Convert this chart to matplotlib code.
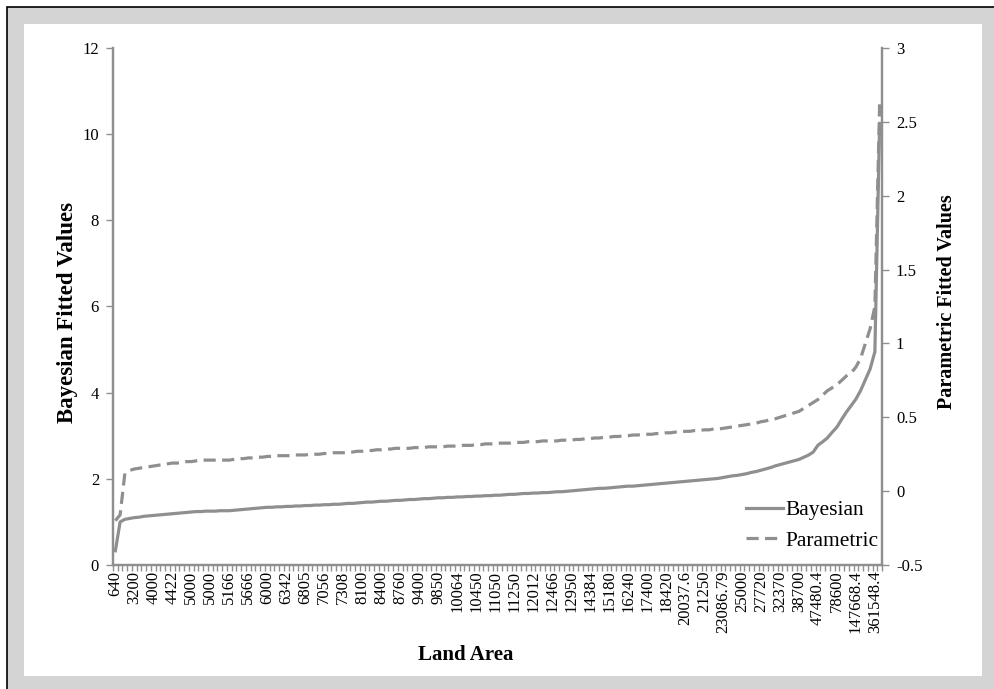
import numpy as np
import matplotlib.pyplot as plt
from matplotlib.patches import Rectangle
from matplotlib.lines import Line2D

# Etiquetas del eje X (una de cada cuatro categorias)
area_labels = ['640', '3200', '4000', '4422', '5000', '5000', '5166', '5666', '6000',
               '6342', '6805', '7056', '7308', '8100', '8400', '8760', '9400', '9850',
               '10064', '10450', '11050', '11250', '12012', '12466', '12950', '14384',
               '15180', '16240', '17400', '18420', '20037.6', '21250', '23086.79',
               '25000', '27720', '32370', '38700', '47480.4', '78600', '147668.4',
               '361548.4']
label_step = 4

# Valores ajustados (eje izquierdo)
bayesian = [0.33, 1.00, 1.06, 1.08, 1.10, 1.11, 1.13, 1.14, 1.15, 1.16,
            1.17, 1.18, 1.19, 1.20, 1.21, 1.22, 1.23, 1.24, 1.24, 1.25,
            1.25, 1.25, 1.26, 1.26, 1.26, 1.27, 1.28, 1.29, 1.30, 1.31,
            1.32, 1.33, 1.34, 1.34, 1.35, 1.35, 1.36, 1.36, 1.37, 1.37,
            1.38, 1.38, 1.39, 1.39, 1.40, 1.40, 1.41, 1.41, 1.42, 1.43,
            1.43, 1.44, 1.45, 1.46, 1.46, 1.47, 1.48, 1.48, 1.49, 1.50,
            1.50, 1.51, 1.52, 1.52, 1.53, 1.54, 1.54, 1.55, 1.56, 1.56,
            1.57, 1.57, 1.58, 1.58, 1.59, 1.59, 1.60, 1.60, 1.61, 1.61,
            1.62, 1.62, 1.63, 1.64, 1.64, 1.65, 1.66, 1.66, 1.67, 1.67,
            1.68, 1.68, 1.69, 1.70, 1.70, 1.71, 1.72, 1.73, 1.74, 1.75,
            1.76, 1.77, 1.78, 1.78, 1.79, 1.80, 1.81, 1.82, 1.83, 1.83,
            1.84, 1.85, 1.86, 1.87, 1.88, 1.89, 1.90, 1.91, 1.92, 1.93,
            1.94, 1.95, 1.96, 1.97, 1.98, 1.99, 2.00, 2.01, 2.03, 2.05,
            2.07, 2.08, 2.10, 2.12, 2.15, 2.17, 2.20, 2.23, 2.26, 2.30,
            2.33, 2.36, 2.39, 2.42, 2.45, 2.50, 2.55, 2.62, 2.78, 2.86,
            2.95, 3.08, 3.20, 3.38, 3.55, 3.70, 3.85, 4.05, 4.30, 4.55,
            4.95, 10.25]

# Valores ajustados (eje derecho)
parametric = [-0.20, -0.16, 0.12, 0.14, 0.15, 0.155, 0.16, 0.165, 0.17, 0.175,
              0.18, 0.185, 0.19, 0.19, 0.195, 0.20, 0.20, 0.205, 0.21, 0.21,
              0.21, 0.21, 0.21, 0.21, 0.21, 0.215, 0.22, 0.22, 0.225, 0.225,
              0.23, 0.23, 0.235, 0.235, 0.24, 0.24, 0.24, 0.24, 0.245, 0.245,
              0.245, 0.25, 0.25, 0.25, 0.255, 0.255, 0.26, 0.26, 0.26, 0.265,
              0.265, 0.27, 0.27, 0.275, 0.275, 0.28, 0.28, 0.285, 0.285, 0.29,
              0.29, 0.29, 0.29, 0.295, 0.295, 0.295, 0.30, 0.30, 0.30, 0.30,
              0.305, 0.305, 0.305, 0.31, 0.31, 0.31, 0.315, 0.315, 0.32, 0.32,
              0.32, 0.325, 0.325, 0.325, 0.33, 0.33, 0.33, 0.335, 0.335, 0.335,
              0.34, 0.34, 0.34, 0.34, 0.345, 0.345, 0.345, 0.35, 0.35, 0.355,
              0.355, 0.36, 0.36, 0.365, 0.365, 0.37, 0.37, 0.375, 0.375, 0.38,
              0.38, 0.385, 0.385, 0.385, 0.39, 0.39, 0.395, 0.395, 0.40, 0.40,
              0.405, 0.405, 0.41, 0.41, 0.415, 0.415, 0.42, 0.42, 0.425, 0.43,
              0.435, 0.44, 0.445, 0.45, 0.455, 0.46, 0.47, 0.475, 0.485, 0.49,
              0.50, 0.51, 0.52, 0.53, 0.54, 0.56, 0.58, 0.60, 0.62, 0.65,
              0.68, 0.70, 0.72, 0.75, 0.78, 0.80, 0.84, 0.90, 1.00, 1.10,
              1.25, 2.62]

gris = '#8f8f8f'
plt.rcParams['font.family'] = ['Liberation Serif', 'DejaVu Serif']

fig = plt.figure(figsize=(9.94, 6.89), dpi=100)
fig.patch.set_facecolor('white')

# Marco gris con borde negro y area blanca interior
W, H = 994, 689
fig.patches.append(Rectangle((7 / W, -0.05), 1.1, 1 - 7 / H + 0.05,
                             transform=fig.transFigure, facecolor='#d4d4d4',
                             edgecolor='black', linewidth=1.2, zorder=-3))
fig.patches.append(Rectangle((24 / W, 1 - 676 / H), 958 / W, 652 / H,
                             transform=fig.transFigure, facecolor='white',
                             edgecolor='none', zorder=-2))

ax = fig.add_axes([113 / W, 1 - 565 / H, 769 / W, 517 / H])
ax.patch.set_alpha(0)
ax2 = ax.twinx()

x = np.arange(len(bayesian))
ax.plot(x, bayesian, color=gris, linewidth=2.3, solid_joinstyle='round')
ax2.plot(x, parametric, color=gris, linewidth=2.3, dashes=(3.8, 2))

ax.set_xlim(-0.5, len(x) - 0.5)
ax.set_ylim(0, 12)
ax.set_yticks(np.arange(0, 13, 2))
ax2.set_ylim(-0.5, 3)
ax2.set_yticks([-0.5, 0, 0.5, 1, 1.5, 2, 2.5, 3])
ax2.set_yticklabels(['-0.5', '0', '0.5', '1', '1.5', '2', '2.5', '3'])

# Etiquetas cada cuatro categorias, marcas en cada limite de categoria
ax.set_xticks(np.arange(0, len(area_labels) * label_step, label_step))
ax.set_xticklabels(area_labels, rotation=90, fontsize=12)
ax.set_xticks(np.arange(-0.5, len(x), 1), minor=True)
ax.tick_params(axis='x', which='major', length=0, pad=4)
ax.tick_params(axis='x', which='minor', length=4, width=1, color=gris)

for a in (ax, ax2):
    a.spines['top'].set_visible(False)
    for s in ('left', 'right', 'bottom'):
        a.spines[s].set_color(gris)
        a.spines[s].set_linewidth(1.6)
    a.tick_params(axis='y', length=5, width=1, color=gris, labelsize=12, pad=5)

ax.set_xlabel('Land Area', fontsize=15, fontweight='bold')
ax.xaxis.set_label_coords(0.458, -0.155)
ax.set_ylabel('Bayesian Fitted Values', fontsize=16.5, fontweight='bold')
ax.yaxis.set_label_coords(-0.0455, 0.488)
ax2.set_ylabel('Parametric Fitted Values', fontsize=14.5, fontweight='bold',
               rotation=90)
ax2.yaxis.set_label_coords(1.071, 0.509)

handles = [Line2D([], [], color=gris, linewidth=2.3),
           Line2D([], [], color=gris, linewidth=2.3, dashes=(3.8, 2))]
ax2.legend(handles, ['Bayesian', 'Parametric'], loc='lower right',
           bbox_to_anchor=(0.995, 0.028), borderaxespad=0, borderpad=0,
           frameon=False, fontsize=15.5, handlelength=1.7,
           handletextpad=0.1, labelspacing=0.48)

fig.savefig('out.png', dpi=100)
